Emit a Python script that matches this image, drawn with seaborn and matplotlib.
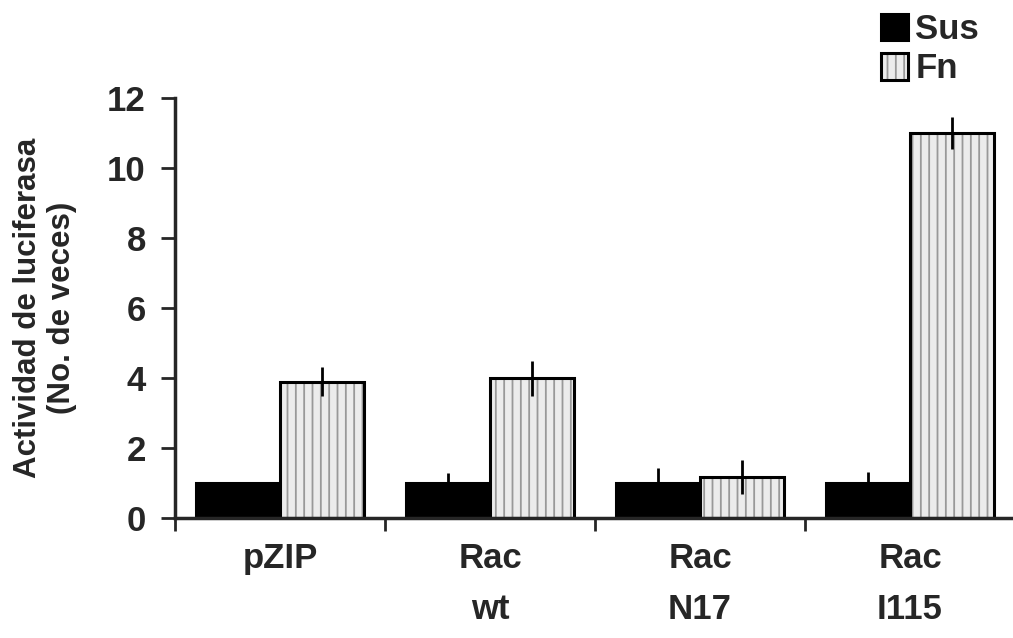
import pandas as pd
import matplotlib
matplotlib.use("Agg")
import matplotlib.pyplot as plt
import seaborn as sns

# datos
grupos = ['pZIP', 'Rac\nwt', 'Rac\nN17', 'Rac\nI115']
sus = [1.0, 1.0, 1.0, 1.0]
fn = [3.9, 4.0, 1.17, 11.0]
err_sus = [0.0, 0.3, 0.42, 0.32]
err_fn = [0.42, 0.5, 0.48, 0.45]

df = pd.DataFrame({
    'grupo': grupos * 2,
    'valor': sus + fn,
    'condicion': ['Sus'] * 4 + ['Fn'] * 4,
})

sns.set_style("ticks")
plt.rcParams['font.family'] = ['Liberation Sans', 'DejaVu Sans']
plt.rcParams['font.weight'] = 'bold'
plt.rcParams['hatch.linewidth'] = 1.3

fig = plt.figure(figsize=(10.13, 6.38), dpi=100)
ax = fig.add_axes([175 / 1013, 120 / 638, 840 / 1013, 420 / 638])

sns.barplot(
    ax=ax,
    data=df,
    x='grupo',
    y='valor',
    hue='condicion',
    palette={'Sus': 'black', 'Fn': '#ececec'},
    edgecolor='black',
    linewidth=2.2,
    width=0.8,
    legend=False,
)

# textura de las barras Fn
for bar in ax.containers[1]:
    bar.set_hatch('||')
    bar._hatch_color = (0.6, 0.6, 0.6, 1.0)

# barras de error (sin tapa)
for cont, errs in zip(ax.containers, [err_sus, err_fn]):
    for bar, e in zip(cont, errs):
        if e <= 0:
            continue
        xc = bar.get_x() + bar.get_width() / 2
        ax.errorbar(xc, bar.get_height(), yerr=e, color='black',
                    elinewidth=2, capsize=0, fmt='none', zorder=5)

ax.set_ylim(0, 12)
ax.set_xlim(-0.5, 3.5)
ax.set_yticks(range(0, 13, 2))
ax.tick_params(axis='y', labelsize=25, width=2, length=10, pad=11, direction='out')
ax.set_xticks(range(4))
ax.set_xticklabels(grupos, fontsize=25, fontweight='bold', linespacing=1.7)
ax.tick_params(axis='x', which='major', length=0, pad=17)
ax.set_xticks([-0.5, 0.5, 1.5, 2.5, 3.5], minor=True)
ax.tick_params(axis='x', which='minor', length=9, width=2, direction='out')

ax.set_xlabel('')
ax.set_ylabel('Actividad de luciferasa\n(No. de veces)', fontsize=22.5,
              fontweight='bold', linespacing=1.15)
ax.yaxis.set_label_coords(-0.117, 0.5)

sns.despine(ax=ax)
for s in ['left', 'bottom']:
    ax.spines[s].set_linewidth(2.5)

ax.legend(
    handles=[ax.containers[0][0], ax.containers[1][0]],
    labels=['Sus', 'Fn'],
    loc='upper right',
    bbox_to_anchor=(0.987, 1.012),
    bbox_transform=fig.transFigure,
    frameon=False,
    fontsize=25,
    handlelength=0.8,
    handleheight=0.8,
    handletextpad=0.2,
    labelspacing=0.18,
    borderaxespad=0.2,
)

fig.savefig('out.png', dpi=100)
